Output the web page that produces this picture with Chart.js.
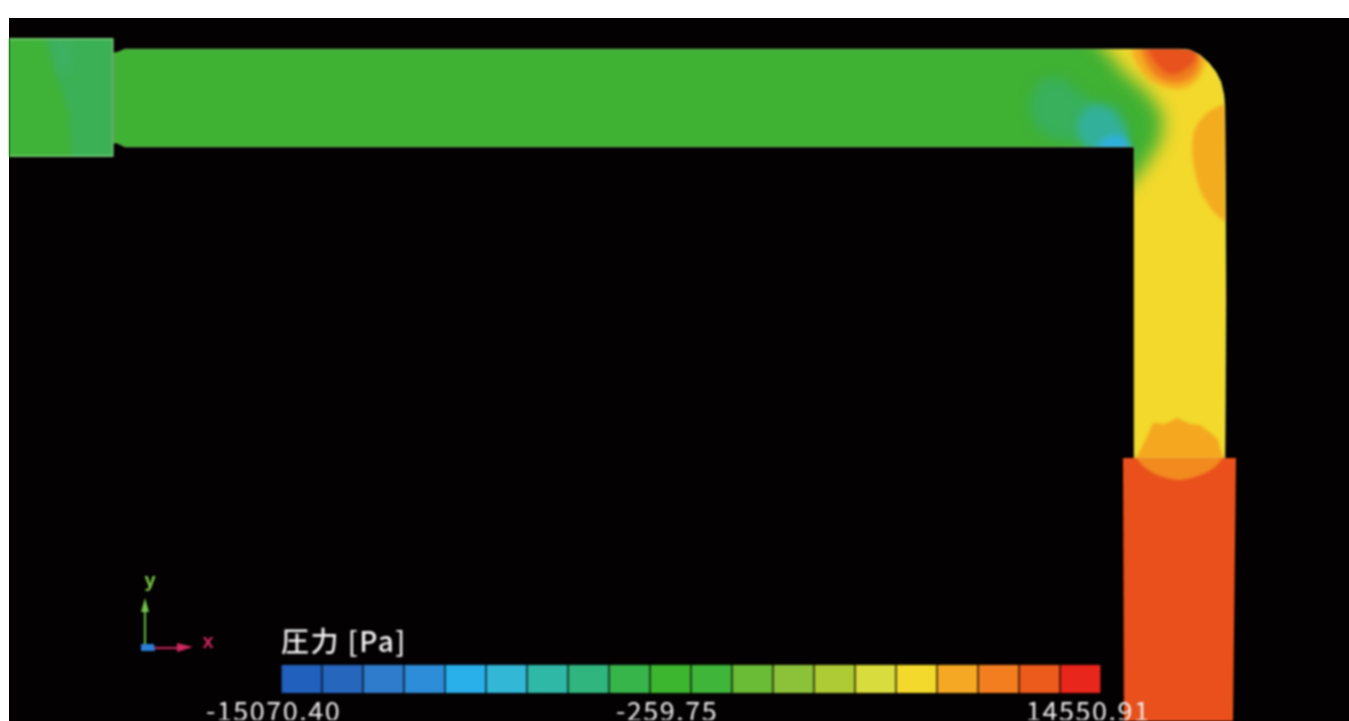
<!DOCTYPE html>
<html><head><meta charset="utf-8">
<script src="https://cdn.jsdelivr.net/npm/chart.js@4"></script>
<style>
html,body{margin:0;padding:0;background:#fff;width:1349px;height:721px;overflow:hidden}
#bg{position:absolute;left:9px;top:18px;width:1340px;height:703px;background:#040102}
canvas{position:absolute;left:0;display:block}
#field{top:0;filter:blur(.8px)}
#bar{top:621px;filter:blur(.8px)}
</style></head><body>
<div id="bg"></div>
<canvas id="field" width="1349" height="721"></canvas>
<canvas id="bar" width="1349" height="105"></canvas>
<script>
const P=(...a)=>a.map(([x,y])=>({x,y}));
// colour-bar levels
const barTitle='圧力 [Pa]';
const tickValues=[-15070.40,-259.75,14550.91];
const binCenters=[-14329.87,-12848.80,-11367.74,-9886.67,-8405.61,-6924.54,-5443.48,-3962.41,-2481.35,-1000.28,480.78,1961.85,3442.91,4923.98,6405.04,7886.11,9367.17,10848.24,12329.30,13810.37];
const binColors=['#2260bd','#2766bd','#2e7ccb','#2e8dd8','#29b0ea','#33b7d6','#2fb8a6','#31b57f','#37b44a','#3cb52f','#3fb53a','#6abb35','#8cc23a','#aecb35','#d8dc3c','#f3d92c','#f5a823','#f37e20','#ec5a1c','#e8261c'];
const binHeights=[1,1,1,1,1,1,1,1,1,1,1,1,1,1,1,1,1,1,1,1];
// model geometry
const inletBlock=P([9,38],[113,38],[113,157],[9,157],[9,38]);
const inletEdge=P([9,39],[113,39],[113,156],[9,156]);
const pipeOutline=P([125,49],[1180,49],[1190,50],[1200,55],[1209,63],[1216,72],[1221,82],[1224,95],[1225,110],[1226,300],[1225,458],[1134,458],[1134,147],[125,147],[117,143],[114,143],[114,53],[118,52],[125,49]);
const outletBlock=P([1123,458],[1236,458],[1233,721],[1124,721],[1123,458]);
// pressure contours
const inletTeal=P([47,30],[120,30],[120,165],[72,165],[68,110],[55,70],[47,30]);
const inletPatch=P([47,36],[72,36],[72,70],[60,78],[47,36]);
const yellowZone=P([1086,30],[1106,50],[1124,72],[1147,92],[1163,115],[1161,140],[1146,165],[1128,187],[1110,200],[1110,470],[1260,470],[1260,30],[1086,30]);
const tealHaze=P([1030,100],[1040,82],[1060,78],[1075,88],[1090,100],[1120,110],[1120,140],[1060,140],[1035,125],[1030,100]);
const tealCore=P([1078,118],[1090,106],[1108,108],[1120,120],[1128,138],[1120,150],[1090,150],[1078,132],[1078,118]);
const cyanEdge=P([1095,150],[1105,138],[1122,136],[1130,146],[1130,155],[1095,155],[1095,150]);
const orangeTop=P([1131,45],[1135,60],[1147,77],[1160,85],[1177,89],[1192,84],[1202,72],[1205,55],[1195,45],[1131,45]);
const orangeMid=P([1140,45],[1146,62],[1158,77],[1177,82],[1193,75],[1199,60],[1192,45],[1140,45]);
const redTop=P([1146,45],[1155,62],[1170,74],[1186,69],[1196,57],[1190,45],[1146,45]);
const orangeSide=P([1240,100],[1227,103],[1205,115],[1193,137],[1197,180],[1210,207],[1227,223],[1240,228],[1240,100]);
const orangeDome=P([1130,462],[1138,455],[1147,437],[1153,423],[1165,424],[1177,418],[1190,424],[1200,425],[1212,434],[1218,440],[1222,455],[1230,462],[1130,462]);
const orangeLens=P([1135,456],[1222,456],[1216,466],[1203,474],[1180,480],[1157,475],[1143,466],[1135,456]);
// coordinate triad
const triadY=P([145,647],[145,610]);
const triadYHead=P([145,598],[149,612],[141,612],[145,598]);
const triadX=P([147,648],[180,648]);
const triadXHead=P([193,647],[177,643],[177,652],[193,647]);
const triadZ=P([141,644],[154,644],[155,651],[141,651],[141,644]);
const triadLabels=[{text:'y',x:150,y:581,color:'#7ccb4a'},{text:'x',x:208,y:642,color:'#c8285a'}];

const poly=(data,color,clipTo,blur=0,tension=0)=>({data,backgroundColor:color,clipTo,blur,tension,borderWidth:0,showLine:true,pointRadius:0,fill:false});
const stroke=(data,color,w)=>({data,borderColor:color,borderWidth:w,showLine:true,pointRadius:0,fill:false,noFill:true,tension:0});
const paint=[
 poly(inletBlock,'#3fb338'),
 poly(inletTeal,'#3cb054',inletBlock,2),
 poly(inletPatch,'#3eb062',inletBlock,5),
 stroke(inletEdge,'rgba(140,215,140,.75)',1.5),
 poly(pipeOutline,'#3fb133'),
 poly(yellowZone,'#f3d92b',pipeOutline,9),
 poly(tealHaze,'#38b05c',pipeOutline,6,.4),
 poly(tealCore,'#33b09a',pipeOutline,4,.4),
 poly(cyanEdge,'#2fb0dc',pipeOutline,3,.4),
 poly(orangeTop,'#f5ab22',pipeOutline,2,.4),
 poly(orangeMid,'#f07c20',pipeOutline,2,.4),
 poly(redTop,'#e8521c',pipeOutline,2,.4),
 poly(orangeSide,'#f4ac1f',pipeOutline,1.5,.4),
 poly(orangeDome,'#f4a71f',pipeOutline,.8),
 stroke(pipeOutline,'rgba(190,225,170,.35)',1),
 poly(outletBlock,'#e9501b'),
 poly(orangeLens,'#f28a20',outletBlock,1.2,.3),
 stroke(triadY,'#62c040',2),
 poly(triadYHead,'#70c548'),
 stroke(triadX,'#c8285a',2),
 poly(triadXHead,'#cf2a60'),
 poly(triadZ,'#2a80d8')
];
const contourPainter={
 id:'contourPainter',
 beforeDatasetDraw(chart,{index,meta}){
  const ds=chart.data.datasets[index],ctx=chart.ctx;
  ctx.save();
  if(ds.noFill) return;
  if(ds.clipTo){
   const sx=chart.scales.x,sy=chart.scales.y;
   ctx.beginPath();
   ds.clipTo.forEach((p,i)=>{const X=sx.getPixelForValue(p.x),Y=sy.getPixelForValue(p.y);i?ctx.lineTo(X,Y):ctx.moveTo(X,Y);});
   ctx.closePath();ctx.clip();
  }
  if(ds.blur) ctx.filter=`blur(${ds.blur}px)`;
  ctx.fillStyle=ds.backgroundColor;
  ctx.beginPath();
  meta.dataset.path(ctx);
  ctx.closePath();
  ctx.fill();
 },
 afterDatasetDraw(chart){chart.ctx.restore();},
 afterDatasetsDraw(chart){
  const ctx=chart.ctx,sx=chart.scales.x,sy=chart.scales.y;
  ctx.save();
  ctx.font='bold 20px "Liberation Sans"';
  ctx.textAlign='center';ctx.textBaseline='middle';
  triadLabels.forEach(t=>{ctx.fillStyle=t.color;ctx.fillText(t.text,sx.getPixelForValue(t.x),sy.getPixelForValue(t.y));});
  ctx.restore();
 }
};
new Chart(document.getElementById('field'),{
 type:'scatter',
 data:{datasets:paint.slice().reverse()},
 options:{responsive:false,animation:false,events:[],
  layout:{padding:0},
  plugins:{legend:{display:false},tooltip:{enabled:false},title:{display:false}},
  scales:{x:{type:'linear',min:0,max:1349,display:false},y:{type:'linear',min:0,max:721,reverse:true,display:false}}},
 plugins:[contourPainter]
});
const spacing={id:'spacing',beforeDraw(c){c.ctx.letterSpacing='1.5px';}};
new Chart(document.getElementById('bar'),{
 type:'bar',
 data:{datasets:[{data:binCenters.map((x,i)=>({x,y:binHeights[i]})),backgroundColor:binColors,barPercentage:.97,categoryPercentage:1,borderWidth:0}]},
 options:{responsive:false,animation:false,events:[],
  layout:{padding:{left:281,right:248,top:5,bottom:6}},
  plugins:{legend:{display:false},tooltip:{enabled:false},
   title:{display:true,text:barTitle,align:'start',color:'#f2f2f2',padding:{top:0,bottom:8},
    font:{family:'"Noto Sans CJK JP"',size:28,weight:'500',lineHeight:1.1}}},
  scales:{
   x:{type:'linear',min:tickValues[0],max:tickValues[2],offset:false,
    grid:{display:false},border:{display:false},
    afterBuildTicks(a){a.ticks=tickValues.map(value=>({value}));},
    ticks:{autoSkip:false,maxRotation:0,align:'start',labelOffset:-75,padding:-4,color:'#ececec',
     callback:v=>Number(v).toFixed(2),
     font:{family:'"Noto Sans CJK JP"',size:27,lineHeight:1}}},
   y:{min:0,max:1,display:false}}},
 plugins:[spacing]
});
</script>
</body></html>
